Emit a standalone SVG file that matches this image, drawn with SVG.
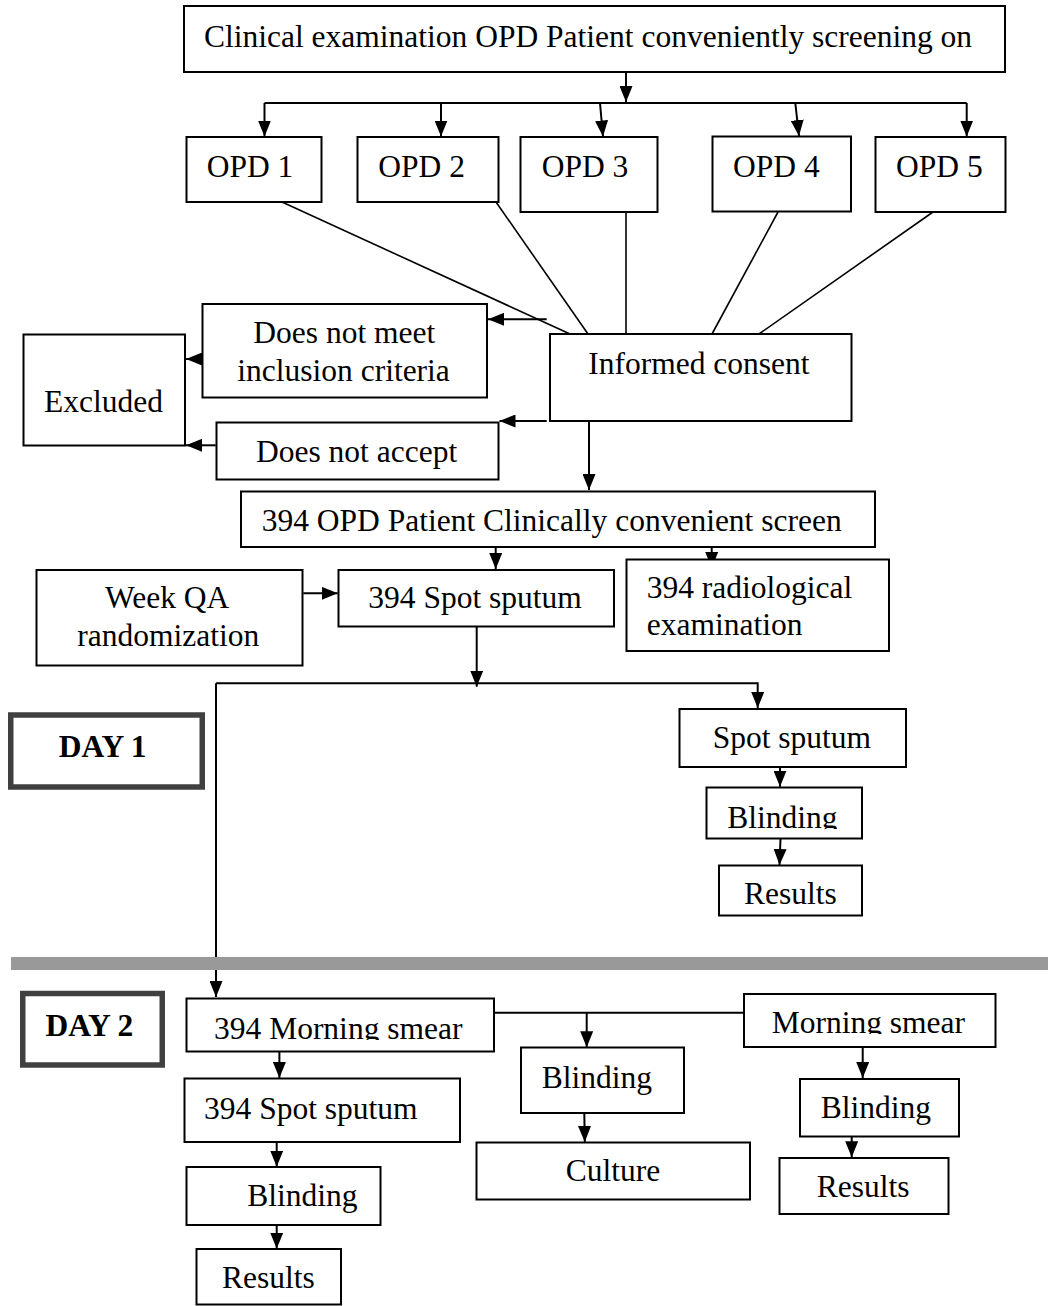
<svg xmlns="http://www.w3.org/2000/svg" width="1048" height="1306" viewBox="0 0 1048 1306">
<style>
.box{fill:#fff;stroke:#000;stroke-width:2}
.day{fill:#fff;stroke:#404040;stroke-width:5.5}
.t{font-family:"Liberation Serif","Times New Roman",serif;font-size:31.5px;fill:#000}
.b{font-weight:bold}
.c{fill:none;stroke:#000;stroke-width:2}
.thin{fill:none;stroke:#000;stroke-width:1.6}
</style>
<defs>
<marker id="ah" markerWidth="16" markerHeight="13" refX="16" refY="6.5" orient="auto" markerUnits="userSpaceOnUse"><path d="M0,0 L16,6.5 L0,13 z" fill="#000"/></marker>
<clipPath id="clipB1"><rect x="700" y="780" width="170" height="49"/></clipPath>
<clipPath id="clipM1"><rect x="180" y="995" width="320" height="45"/></clipPath>
<clipPath id="clipM2"><rect x="740" y="990" width="260" height="44"/></clipPath>
</defs>
<rect x="0" y="0" width="1048" height="1306" fill="#fff"/>

<g id="connectors">
<path class="c" d="M626,73 V102" marker-end="url(#ah)"/>
<path class="c" d="M264.5,103 H966.7"/>
<path class="c" d="M264.5,103 V136.5" marker-end="url(#ah)"/>
<path class="c" d="M441,103 V136.5" marker-end="url(#ah)"/>
<path class="c" d="M600,103 L603,136.5" marker-end="url(#ah)"/>
<path class="c" d="M795.3,103 L799,136" marker-end="url(#ah)"/>
<path class="c" d="M966.7,103 V136.5" marker-end="url(#ah)"/>
<path class="thin" d="M282,202 L570,334"/>
<path class="thin" d="M496,202 L588,334"/>
<path class="thin" d="M626,212 V334"/>
<path class="thin" d="M778,212 L712,334"/>
<path class="thin" d="M933,212 L759,334"/>
<path class="c" d="M546.7,319.3 H488" marker-end="url(#ah)"/>
<path class="c" d="M546.7,421 H499.5" marker-end="url(#ah)"/>
<path class="c" d="M201.7,359 H186" marker-end="url(#ah)"/>
<path class="c" d="M215.7,445.3 H186" marker-end="url(#ah)"/>
<path class="c" d="M589,422 V490" marker-end="url(#ah)"/>
<path class="c" d="M495.7,548 V569" marker-end="url(#ah)"/>
<path class="c" d="M711.7,548 V568" marker-end="url(#ah)"/>
<path class="c" d="M303.3,593.3 H337.7" marker-end="url(#ah)"/>
<path class="c" d="M476.7,627 V686.7" marker-end="url(#ah)"/>
<path class="c" d="M216,683.3 H757.7 V708" marker-end="url(#ah)"/>
<path class="c" d="M216,683.3 V997" marker-end="url(#ah)"/>
<path class="c" d="M780,767.3 V786.7" marker-end="url(#ah)"/>
<path class="c" d="M780.5,839 L779.5,865" marker-end="url(#ah)"/>
<path class="c" d="M494.6,1012.7 H743.3"/>
<path class="c" d="M586.7,1012.7 V1047.3" marker-end="url(#ah)"/>
<path class="c" d="M279.4,1052 V1078" marker-end="url(#ah)"/>
<path class="c" d="M584.3,1113.3 L584.8,1142" marker-end="url(#ah)"/>
<path class="c" d="M862.7,1047.3 V1078" marker-end="url(#ah)"/>
<path class="c" d="M276.7,1142 V1166.7" marker-end="url(#ah)"/>
<path class="c" d="M276.7,1225 V1248.7" marker-end="url(#ah)"/>
<path class="c" d="M851.7,1131.7 V1157.3" marker-end="url(#ah)"/>
</g>

<rect id="separator" x="11" y="957" width="1037" height="13" fill="#999"/>

<g id="n-top"><rect class="box" x="184" y="6" width="821" height="66"/><text class="t" x="204" y="47">Clinical examination OPD Patient conveniently screening on</text></g>
<g id="n-opd1"><rect class="box" x="186.5" y="137" width="135" height="65"/><text class="t" x="206.7" y="177">OPD 1</text></g>
<g id="n-opd2"><rect class="box" x="357.5" y="137" width="141" height="65"/><text class="t" x="378.3" y="177">OPD 2</text></g>
<g id="n-opd3"><rect class="box" x="520.5" y="137" width="137" height="75"/><text class="t" x="541.7" y="177">OPD 3</text></g>
<g id="n-opd4"><rect class="box" x="712.5" y="136.5" width="138.5" height="75"/><text class="t" x="733" y="177">OPD 4</text></g>
<g id="n-opd5"><rect class="box" x="875.5" y="137" width="130" height="75"/><text class="t" x="896" y="177">OPD 5</text></g>
<g id="n-notmeet"><rect class="box" x="202.5" y="304" width="284.5" height="93.5"/><text class="t" x="253.3" y="343.3">Does not meet</text><text class="t" x="237.3" y="380.7">inclusion criteria</text></g>
<g id="n-excluded"><rect class="box" x="23.5" y="334.5" width="161.5" height="111"/><text class="t" x="44" y="411.7">Excluded</text></g>
<g id="n-consent"><rect class="box" x="550" y="334" width="301.5" height="87"/><text class="t" x="588.3" y="374.3">Informed consent</text></g>
<g id="n-notaccept"><rect class="box" x="216.5" y="422.5" width="282" height="57"/><text class="t" x="256" y="461.7">Does not accept</text></g>
<g id="n-screen"><rect class="box" x="241" y="491.5" width="634" height="55.5"/><text class="t" x="261.7" y="530.7">394 OPD Patient Clinically convenient screen</text></g>
<g id="n-weekqa"><rect class="box" x="36.5" y="570" width="266" height="95.5"/><text class="t" x="105" y="608.3">Week QA</text><text class="t" x="77.3" y="646">randomization</text></g>
<g id="n-spot394"><rect class="box" x="338.5" y="570" width="275.5" height="56.5"/><text class="t" x="368.3" y="608.3">394 Spot sputum</text></g>
<g id="n-radio"><rect class="box" x="626.5" y="559.5" width="262.5" height="91.5"/><text class="t" x="646.7" y="598.3">394 radiological</text><text class="t" x="646.7" y="635">examination</text></g>

<g id="n-day1"><rect class="day" x="10.75" y="715" width="191.5" height="72"/><text class="t b" x="58.8" y="757.3">DAY 1</text></g>
<g id="n-spot-d1"><rect class="box" x="679.5" y="709" width="226.5" height="58"/><text class="t" x="712.7" y="748.3">Spot sputum</text></g>
<g id="n-blind-d1"><rect class="box" x="706.5" y="787.5" width="155.5" height="51"/><text class="t" x="727.3" y="828" clip-path="url(#clipB1)">Blinding</text></g>
<g id="n-results-d1"><rect class="box" x="719" y="865.5" width="143" height="50"/><text class="t" x="744" y="904">Results</text></g>

<g id="n-day2"><rect class="day" x="22.75" y="993.5" width="139.5" height="71.5"/><text class="t b" x="45.5" y="1036">DAY 2</text></g>
<g id="n-morning394"><rect class="box" x="186.5" y="998.5" width="307.5" height="53"/><text class="t" x="214" y="1038.5" clip-path="url(#clipM1)">394 Morning smear</text></g>
<g id="n-morning"><rect class="box" x="744" y="994" width="251.5" height="53"/><text class="t" x="771.7" y="1032.5" clip-path="url(#clipM2)">Morning smear</text></g>
<g id="n-blind-mid"><rect class="box" x="521" y="1047.5" width="163" height="65.5"/><text class="t" x="541.7" y="1087.7">Blinding</text></g>
<g id="n-culture"><rect class="box" x="476.5" y="1142.5" width="273.5" height="57"/><text class="t" x="565.7" y="1180.7">Culture</text></g>
<g id="n-blind-right"><rect class="box" x="800" y="1079" width="159" height="57.5"/><text class="t" x="820.7" y="1118.3">Blinding</text></g>
<g id="n-results-right"><rect class="box" x="779.5" y="1158" width="169" height="56"/><text class="t" x="816.7" y="1197.3">Results</text></g>
<g id="n-spot-d2"><rect class="box" x="184.5" y="1078.5" width="275.5" height="63.5"/><text class="t" x="204" y="1119">394 Spot sputum</text></g>
<g id="n-blind-left"><rect class="box" x="186.5" y="1167" width="194" height="58"/><text class="t" x="247.3" y="1206">Blinding</text></g>
<g id="n-results-left"><rect class="box" x="196.5" y="1249" width="144.5" height="55.5"/><text class="t" x="222" y="1288">Results</text></g>
</svg>
